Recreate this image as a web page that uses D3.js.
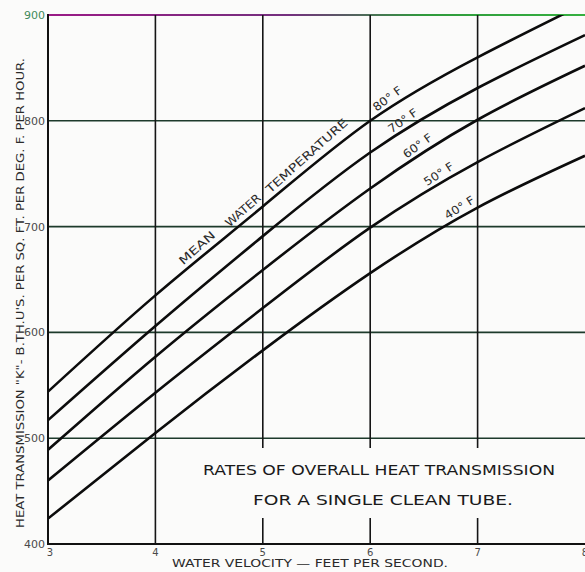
<!DOCTYPE html>
<html>
<head>
<meta charset="utf-8">
<script src="https://cdn.jsdelivr.net/npm/d3@7"></script>
<style>
  body { margin: 0; background: #fbfbfa; }
  svg { display: block; font-family: "DejaVu Sans", "Liberation Sans", sans-serif; }
</style>
</head>
<body>
<svg id="chart" width="585" height="572"></svg>
<script>
// data
const velocity = [3, 4, 5, 6, 7, 8];
const temp80 = [544, 635, 719, 800, 860, 911];
const temp70 = [517, 606, 691, 770, 831, 881];
const temp60 = [489, 577, 659, 736, 801, 852];
const temp50 = [460, 543, 623, 699, 761, 812];
const temp40 = [424, 505, 583, 656, 718, 767];
const curveNames = ["80° F", "70° F", "60° F", "50° F", "40° F"];
const labelAt = [6.08, 6.22, 6.36, 6.55, 6.74];
const meanWords = ["MEAN", "WATER", "TEMPERATURE"];
const meanAt = [4.29, 4.72, 5.1];
const xTicks = [3, 4, 5, 6, 7, 8];
const yTicks = [400, 500, 600, 700, 800, 900];

const series = [temp80, temp70, temp60, temp50, temp40];

const svg = d3.select("#chart");
const mLeft = 48, mRight = 585, mTop = 15, mBottom = 544;

const x = d3.scaleLinear().domain([3, 8]).range([mLeft, mRight]);
const y = d3.scaleLinear().domain([400, 900]).range([mBottom, mTop]);

const defs = svg.append("defs");
defs.append("clipPath").attr("id", "plot")
  .append("rect").attr("x", mLeft).attr("y", mTop).attr("width", mRight - mLeft).attr("height", mBottom - mTop);

const grad = defs.append("linearGradient").attr("id", "topline")
  .attr("x1", "0%").attr("x2", "100%");
grad.append("stop").attr("offset", "0%").attr("stop-color", "#9a1a86");
grad.append("stop").attr("offset", "45%").attr("stop-color", "#74307e");
grad.append("stop").attr("offset", "70%").attr("stop-color", "#2f9a3c");
grad.append("stop").attr("offset", "100%").attr("stop-color", "#35b040");

// horizontal grid
svg.append("g").selectAll("line")
  .data(yTicks.filter(d => d > 400 && d < 900))
  .enter().append("line")
  .attr("x1", mLeft).attr("x2", mRight)
  .attr("y1", d => y(d)).attr("y2", d => y(d))
  .attr("stroke", "#1d3a2b").attr("stroke-width", 1.6);

svg.append("rect")
  .attr("x", mLeft).attr("y", y(900) - 1).attr("width", mRight - mLeft).attr("height", 2)
  .attr("fill", "url(#topline)");

// vertical grid, broken at 5,6,7 around the title
const gapTop = 448, gapBottom = 518;
xTicks.filter(d => d > 3 && d < 8).forEach(d => {
  const segs = d === 4 ? [[mTop, mBottom]] : [[mTop, gapTop], [gapBottom, mBottom]];
  segs.forEach(s => {
    svg.append("line")
      .attr("x1", x(d)).attr("x2", x(d)).attr("y1", s[0]).attr("y2", s[1])
      .attr("stroke", "#151515").attr("stroke-width", 1.6);
  });
});

// axes frame
svg.append("line").attr("x1", mLeft).attr("x2", mLeft).attr("y1", mTop - 1).attr("y2", mBottom + 1)
  .attr("stroke", "#111").attr("stroke-width", 2);
svg.append("line").attr("x1", mLeft).attr("x2", mRight).attr("y1", mBottom).attr("y2", mBottom)
  .attr("stroke", "#111").attr("stroke-width", 2);

// tick labels
svg.append("g").selectAll("text").data(yTicks).enter().append("text")
  .attr("x", mLeft - 3).attr("y", d => y(d) + 4)
  .attr("text-anchor", "end").attr("font-size", 11)
  .attr("fill", d => d === 900 ? "#3f8a5a" : "#4a4a4a")
  .text(d => d);

svg.append("g").selectAll("text").data(xTicks).enter().append("text")
  .attr("x", d => x(d) + (d === 3 ? 2 : 0)).attr("y", mBottom + 12)
  .attr("text-anchor", "middle").attr("font-size", 10)
  .attr("fill", "#4a4a4a")
  .text(d => d);

// curves
const line = d3.line()
  .x((d, i) => x(velocity[i]))
  .y(d => y(d))
  .curve(d3.curveNatural);

const g = svg.append("g").attr("clip-path", "url(#plot)");
const paths = series.map(s =>
  g.append("path").attr("d", line(s)).attr("fill", "none")
    .attr("stroke", "#0c0c0c").attr("stroke-width", 2.6).node());

// find the point of a path at a given x value, and its angle
function pointAt(path, xv) {
  const px = x(xv);
  const total = path.getTotalLength();
  let lo = 0, hi = total;
  for (let k = 0; k < 40; k++) {
    const mid = (lo + hi) / 2;
    if (path.getPointAtLength(mid).x < px) lo = mid; else hi = mid;
  }
  const p = path.getPointAtLength(lo);
  const a = path.getPointAtLength(Math.max(0, lo - 6));
  const b = path.getPointAtLength(Math.min(total, lo + 6));
  const ang = Math.atan2(b.y - a.y, b.x - a.x) * 180 / Math.PI;
  return { x: p.x, y: p.y, ang: ang };
}

function putLabel(path, xv, txt, len, off) {
  const p = pointAt(path, xv);
  svg.append("text")
    .attr("transform", `translate(${p.x},${p.y}) rotate(${p.ang - 2})`)
    .attr("x", 0).attr("y", -off)
    .attr("font-size", 11.5).attr("fill", "#2a2a2a")
    .attr("textLength", len).attr("lengthAdjust", "spacingAndGlyphs")
    .text(txt);
}

curveNames.forEach((t, i) => putLabel(paths[i], labelAt[i], t, 33, 4));
const meanLen = [44, 43, 105];
meanWords.forEach((w, i) => putLabel(paths[0], meanAt[i], w, meanLen[i], 5));

// title
svg.append("text").attr("x", 379).attr("y", 475).attr("text-anchor", "middle")
  .attr("font-size", 14).attr("fill", "#1a1a1a")
  .attr("textLength", 352).attr("lengthAdjust", "spacingAndGlyphs")
  .text("RATES OF OVERALL HEAT TRANSMISSION");
svg.append("text").attr("x", 383).attr("y", 505).attr("text-anchor", "middle")
  .attr("font-size", 14).attr("fill", "#1a1a1a")
  .attr("textLength", 260).attr("lengthAdjust", "spacingAndGlyphs")
  .text("FOR A SINGLE CLEAN TUBE.");

// axis titles
svg.append("text").attr("x", 310).attr("y", 567).attr("text-anchor", "middle")
  .attr("font-size", 10.5).attr("fill", "#2a2a2a")
  .attr("textLength", 276).attr("lengthAdjust", "spacingAndGlyphs")
  .text("WATER VELOCITY — FEET PER SECOND.");

svg.append("text").attr("transform", "translate(24,293) rotate(-90)")
  .attr("text-anchor", "middle")
  .attr("font-size", 11).attr("fill", "#2a2a2a")
  .attr("textLength", 470).attr("lengthAdjust", "spacingAndGlyphs")
  .text("HEAT TRANSMISSION \"K\"- B.TH.U'S. PER SQ. FT. PER DEG. F. PER HOUR.");
</script>
</body>
</html>
